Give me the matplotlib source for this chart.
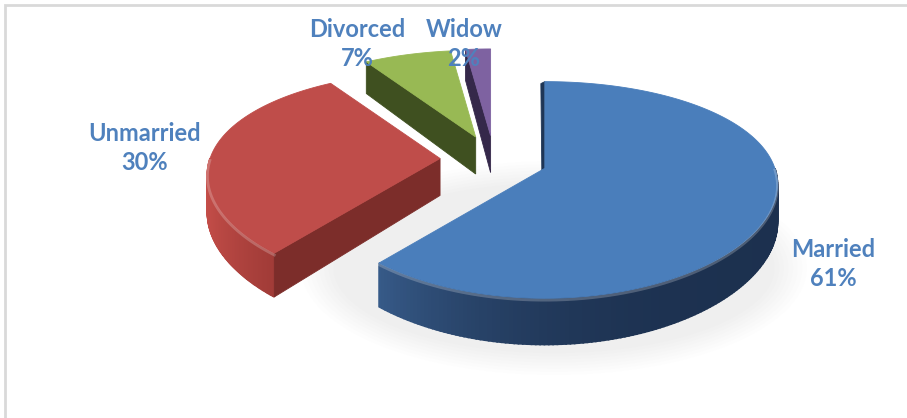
import numpy as np
import matplotlib.pyplot as plt
from matplotlib.patches import Polygon, Ellipse

# marital status breakdown
labels = ['Married', 'Unmarried', 'Divorced', 'Widow']
shares = [61, 30, 7, 2]

# colours: top face, wall light, wall dark, cut face
top_cols = ['#4a7ebb', '#bf4d4a', '#98b954', '#7e62a1']
wall_light = [(0.30, 0.49, 0.72), (0.78, 0.31, 0.29), (0.45, 0.56, 0.22), (0.35, 0.27, 0.48)]
wall_dark = [(0.11, 0.19, 0.31), (0.45, 0.14, 0.13), (0.22, 0.29, 0.10), (0.17, 0.13, 0.25)]
cut_cols = ['#1f3656', '#7c2d2a', '#3f5020', '#35284a']

# label anchors (pixels)
label_xy = [(833, 264), (145, 148), (357, 44), (464, 44)]
label_col = '#4f81bd'

# pie geometry in pixels
cx, cy = 494, 160
rx, ry = 230, 104
depth = 37
persp_x, persp_y = 0.15, 0.2
explode = 0.235

fig = plt.figure(figsize=(9.07, 4.18), dpi=100)
ax = fig.add_axes([0, 0, 1, 1])
ax.set_xlim(0, 907)
ax.set_ylim(418, 0)
ax.axis('off')

# chart frame
ax.plot([5, 5, 907], [418, 5, 5], color='#d9d9d9', lw=2, solid_joinstyle='miter')


def rim(ox, oy, th, drop=0.0):
    sx = 1.0 / (1.0 + persp_x * np.sin(th))
    sy = 1.0 / (1.0 + persp_y * np.sin(th))
    return ox + rx * np.cos(th) * sx, oy - ry * np.sin(th) * sy + drop * sy


# soft shadow under the pie
for k in range(8):
    ax.add_patch(Ellipse((cx + 60, cy + 108), 2 * rx * (1.1 - 0.02 * k), 2 * ry * (1.03 - 0.03 * k),
                         color='#808080', alpha=0.01, lw=0, zorder=1))

slices = []
start = 90.0
for i, v in enumerate(shares):
    hi = np.radians(start)
    lo = np.radians(start - v * 3.6)
    start -= v * 3.6
    mid = (lo + hi) / 2
    ox = cx + explode * rx * np.cos(mid)
    oy = cy - explode * ry * np.sin(mid)
    slices.append((oy, i, lo, hi, ox))

# far slices first
for oy, i, lo, hi, ox in sorted(slices):
    th = np.linspace(lo, hi, 240)

    # curved outer wall, front half only
    for a0, a1 in zip(th[:-1], th[1:]):
        am = (a0 + a1) / 2
        if np.sin(am) >= 0:
            continue
        t = ((1 - np.cos(am)) / 2) ** 3
        c = tuple(d + (l - d) * t for l, d in zip(wall_light[i], wall_dark[i]))
        p = [rim(ox, oy, a0), rim(ox, oy, a1), rim(ox, oy, a1, depth), rim(ox, oy, a0, depth)]
        ax.add_patch(Polygon(p, closed=True, fc=c, ec=c, lw=1.2, zorder=3))

    # cut faces that face the viewer
    for edge, vis in ((hi, np.cos(hi) < -1e-6), (lo, np.cos(lo) > 1e-6)):
        if vis:
            p = [(ox, oy), rim(ox, oy, edge), rim(ox, oy, edge, depth), (ox, oy + depth)]
            ax.add_patch(Polygon(p, closed=True, fc=cut_cols[i], ec=cut_cols[i], lw=0.6, zorder=3))
    if abs(np.cos(hi)) <= 1e-6:
        # edge-on face at twelve o'clock, seen as a slim strip
        tx, ty = rim(ox, oy, hi)
        p = [(tx, ty), (ox, oy), (ox - 3, oy + 6), (tx - 4, ty + 2)]
        ax.add_patch(Polygon(p, closed=True, fc=cut_cols[i], ec=cut_cols[i], lw=0.6, zorder=3))

    # top face
    pts = [(ox, oy)] + [rim(ox, oy, a) for a in th]
    ax.add_patch(Polygon(pts, closed=True, fc=top_cols[i], ec=top_cols[i], lw=0.6, zorder=4))

    # bevel highlight on the front rim
    front = th[np.sin(th) < 0]
    if len(front):
        xs, ys = zip(*[rim(ox, oy, a, 1.5) for a in front])
        ax.plot(xs, ys, color='white', alpha=0.22, lw=2, zorder=4.5)

for (x, y), name, v in zip(label_xy, labels, shares):
    ax.text(x, y, f'{name}\n{v}%', ha='center', va='center', color=label_col,
            fontsize=17, fontweight='bold', family='Lato', linespacing=1.3, zorder=10)

fig.savefig('out.png', dpi=100)
